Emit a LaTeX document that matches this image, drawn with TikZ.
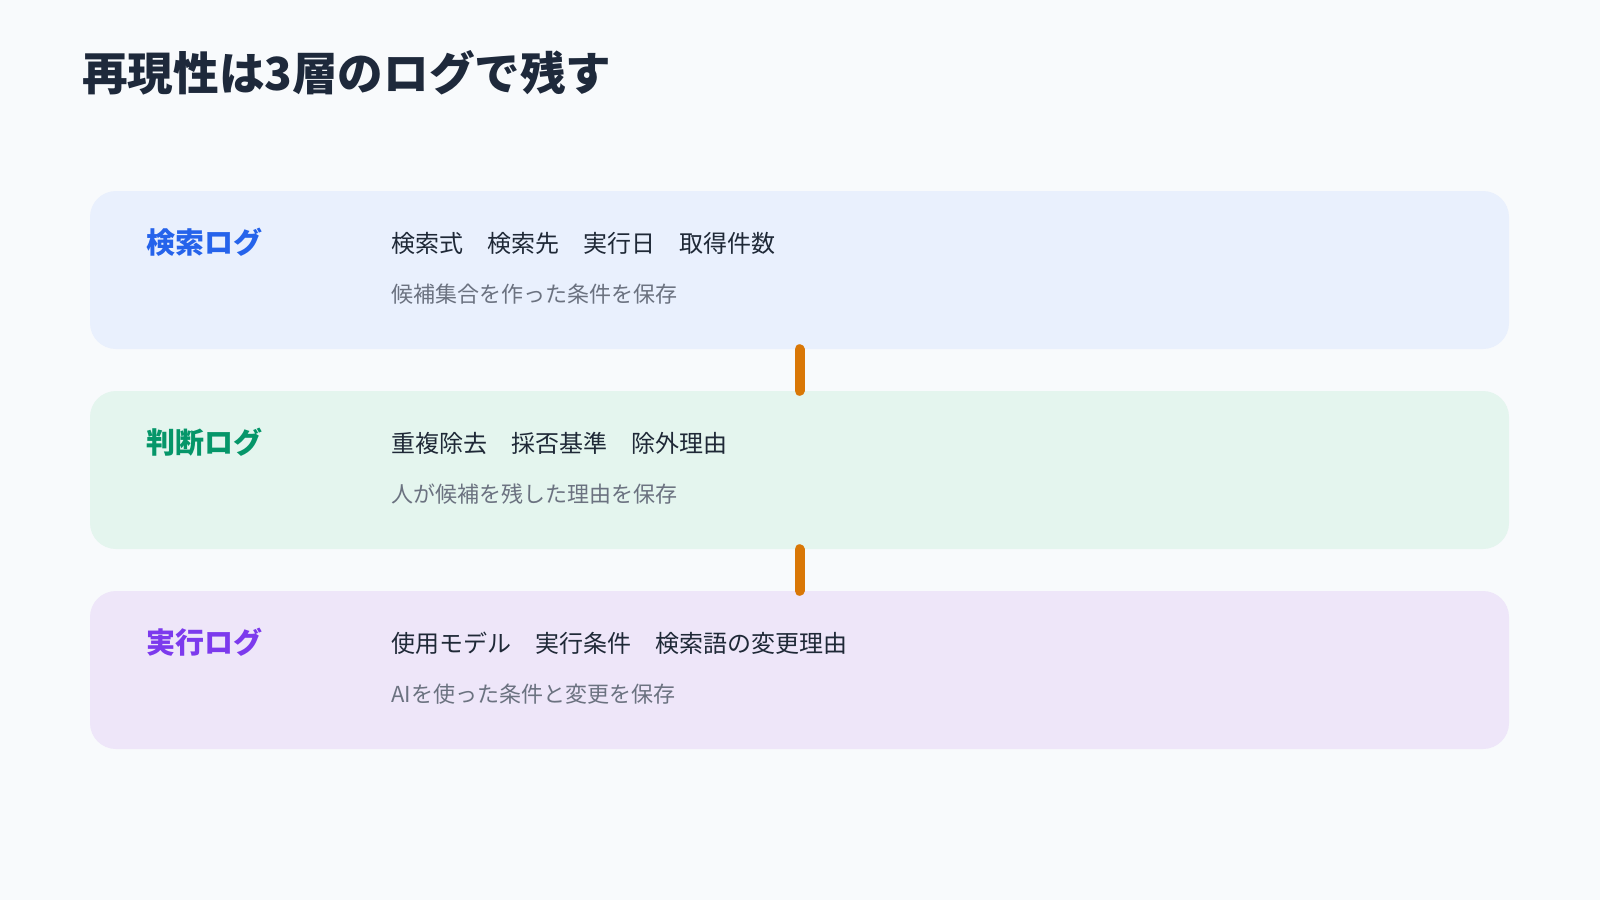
\documentclass[tikz,border=0pt]{standalone}
\usepackage{fontspec}
\setmainfont{Noto Sans CJK JP}
\usepackage{xcolor}
\usetikzlibrary{positioning}
\definecolor{bgc}{HTML}{F8FAFC}
\definecolor{ink}{HTML}{1E293B}
\definecolor{body}{HTML}{1F2937}
\definecolor{sub}{HTML}{6B7280}
\definecolor{bar}{HTML}{D97706}
\definecolor{blue}{HTML}{2563EB}
\definecolor{green}{HTML}{059669}
\definecolor{purple}{HTML}{7C3AED}
\definecolor{bluebg}{HTML}{E9F0FD}
\definecolor{greenbg}{HTML}{E4F5EE}
\definecolor{purplebg}{HTML}{EEE6F9}
\tikzset{layer/.style={rectangle,rounded corners=26pt,minimum width=1419pt,minimum height=158pt,inner sep=0pt},
    head/.style={anchor=west,inner sep=0pt,font=\fontsize{29}{34}\selectfont\bfseries},
    items/.style={anchor=west,inner sep=0pt,text=body,font=\fontsize{24}{30}\selectfont},
    note/.style={anchor=west,inner sep=0pt,text=sub,font=\fontsize{22}{26}\selectfont},
    link/.style={draw=bar,line width=10pt,line cap=round}}

\begin{document}
\begin{tikzpicture}[x=1pt,y=-1pt]
        \fill[bgc] (0,0) rectangle (1600,900);
        \useasboundingbox (0,0) rectangle (1600,900);

        \node[anchor=west,inner sep=0pt,text=ink,font=\fontsize{45.6}{54}\selectfont\bfseries] (t)at (82,73) {再現性は3層のログで残す};

        \node[layer,fill=bluebg] (a)at (799.5,270) {};
        \node[layer,fill=greenbg] (b)at (799.5,470) {};
        \node[layer,fill=purplebg] (c)at (799.5,670) {};

        \node[head,text=blue] (a1)at (146,242) {検索ログ};
        \node[items] (a2)at (391,243) {検索式　検索先　実行日　取得件数};
        \node[note] (a3)at (391,294) {候補集合を作った条件を保存};

        \node[head,text=green] (b1)at (146,442) {判断ログ};
        \node[items] (b2)at (391,443) {重複除去　採否基準　除外理由};
        \node[note] (b3)at (391,494) {人が候補を残した理由を保存};

        \node[head,text=purple] (c1)at (146,642) {実行ログ};
        \node[items] (c2)at (391,643) {使用モデル　実行条件　検索語の変更理由};
        \node[note] (c3)at (391,694) {AIを使った条件と変更を保存};

        \draw [link] (a.south) to (b.north);
        \draw [link] (b.south) to (c.north);
    \end{tikzpicture}
\end{document}
